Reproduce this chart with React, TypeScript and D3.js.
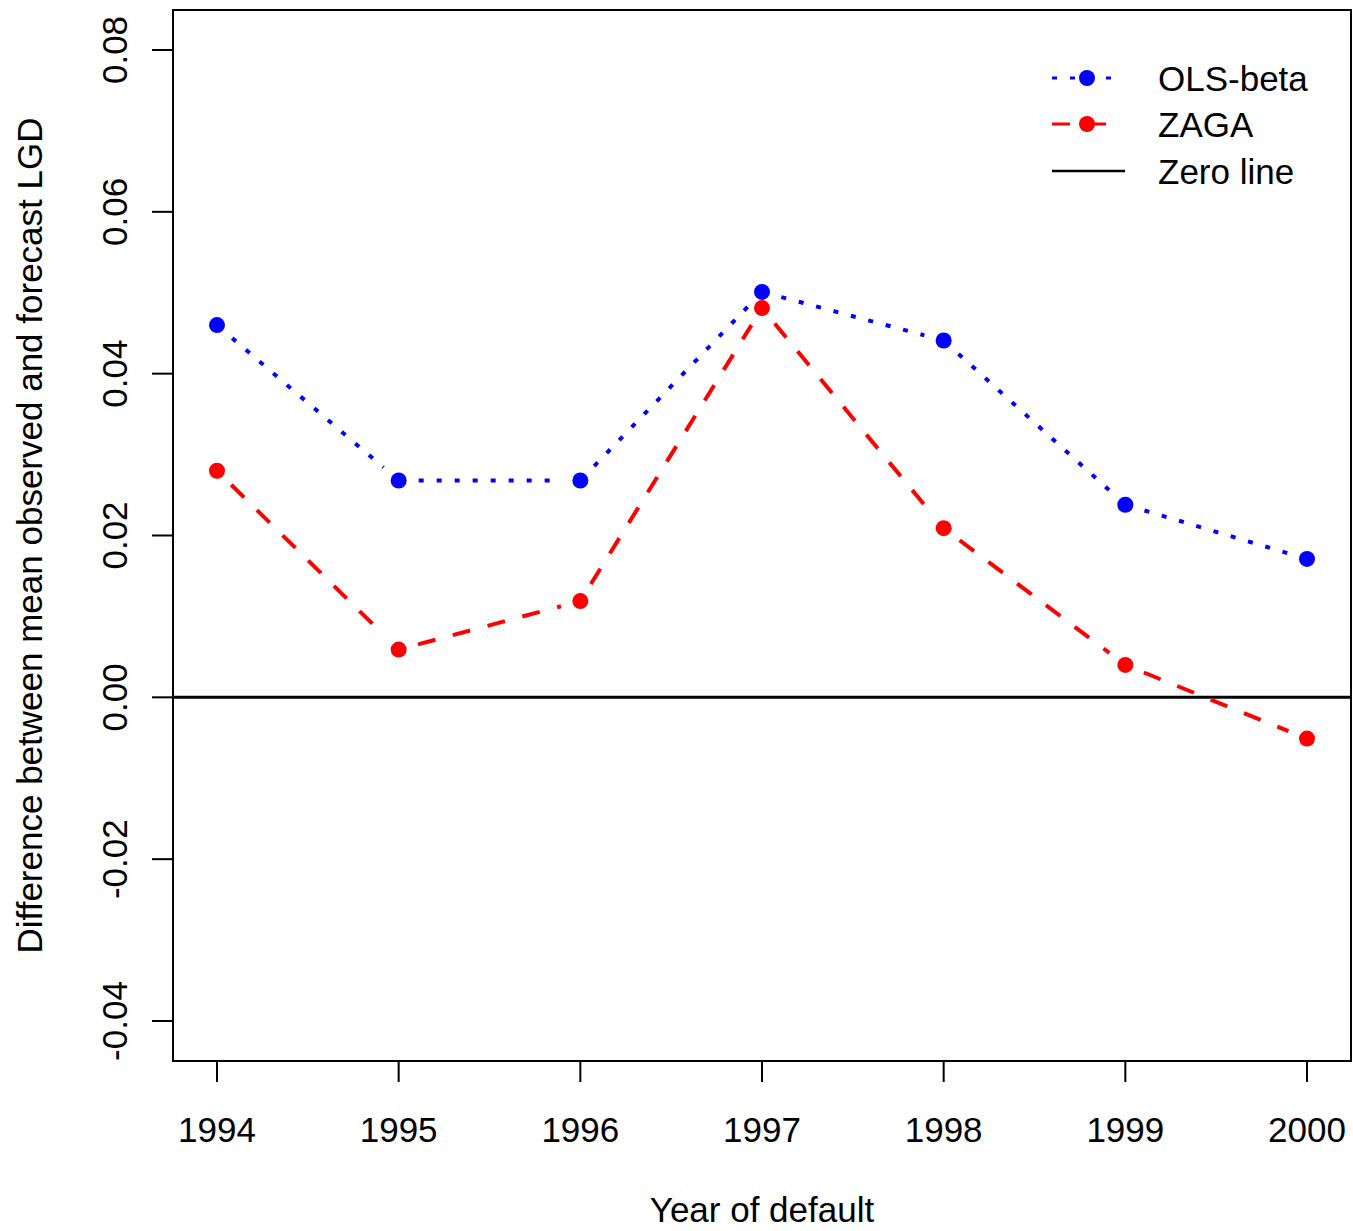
import { useEffect, useRef } from 'react';
import * as d3 from 'd3';

const years = [1994, 1995, 1996, 1997, 1998, 1999, 2000];
const olsBeta = [0.046, 0.0268, 0.0268, 0.0501, 0.0441, 0.0238, 0.0171];
const zaga = [0.028, 0.0059, 0.0119, 0.0481, 0.0209, 0.004, -0.0051];
const yTicks = [-0.04, -0.02, 0, 0.02, 0.04, 0.06, 0.08];

const width = 1353;
const height = 1231;
const font = '"Liberation Sans", Arial, sans-serif';

const App = () => {
  const svgRef = useRef<SVGSVGElement>(null);

  useEffect(() => {
    if (!svgRef.current) return;
    const svg = d3.select(svgRef.current);
    svg.selectAll('*').remove();

    // plot box, as R draws it
    const box = { left: 173, right: 1351, top: 10, bottom: 1061 };

    const xScale = d3.scaleLinear().domain([1994, 2000]).range([217, 1307]);
    const yScale = d3.scaleLinear().domain([-0.04, 0.08]).range([1021, 50]);

    const series = [
      { name: 'OLS-beta', values: olsBeta, color: '#0000ff', dash: '5 13' },
      { name: 'ZAGA', values: zaga, color: '#ff0000', dash: '18 18' },
    ];

    // Zero line
    svg.append('line')
      .attr('x1', box.left)
      .attr('x2', box.right)
      .attr('y1', yScale(0))
      .attr('y2', yScale(0))
      .attr('stroke', '#000')
      .attr('stroke-width', 3);

    // Lines with gaps around the points (type = "b")
    const gap = 20;
    const line = d3.line<[number, number]>();
    series.forEach(s => {
      const pts = years.map((yr, i) => [xScale(yr), yScale(s.values[i])] as [number, number]);
      for (let i = 0; i < pts.length - 1; i++) {
        const [x0, y0] = pts[i];
        const [x1, y1] = pts[i + 1];
        const len = Math.hypot(x1 - x0, y1 - y0);
        const ux = (x1 - x0) / len;
        const uy = (y1 - y0) / len;
        svg.append('path')
          .attr('d', line([[x0 + ux * gap, y0 + uy * gap], [x1 - ux * gap, y1 - uy * gap]]))
          .attr('fill', 'none')
          .attr('stroke', s.color)
          .attr('stroke-width', 4)
          .attr('stroke-dasharray', s.dash);
      }
      svg.selectAll(null)
        .data(pts)
        .join('circle')
        .attr('cx', d => d[0])
        .attr('cy', d => d[1])
        .attr('r', 8)
        .attr('fill', s.color);
    });

    // Box
    svg.append('rect')
      .attr('x', box.left)
      .attr('y', box.top)
      .attr('width', box.right - box.left)
      .attr('height', box.bottom - box.top)
      .attr('fill', 'none')
      .attr('stroke', '#000')
      .attr('stroke-width', 2);

    // X axis
    const xg = svg.append('g');
    years.forEach(yr => {
      xg.append('line')
        .attr('x1', xScale(yr)).attr('x2', xScale(yr))
        .attr('y1', box.bottom).attr('y2', box.bottom + 21)
        .attr('stroke', '#000').attr('stroke-width', 2);
      xg.append('text')
        .attr('x', xScale(yr))
        .attr('y', 1142)
        .attr('text-anchor', 'middle')
        .style('font-family', font)
        .style('font-size', '35px')
        .text(yr);
    });

    // Y axis
    const yg = svg.append('g');
    yTicks.forEach(t => {
      yg.append('line')
        .attr('x1', box.left).attr('x2', box.left - 21)
        .attr('y1', yScale(t)).attr('y2', yScale(t))
        .attr('stroke', '#000').attr('stroke-width', 2);
      yg.append('text')
        .attr('transform', `translate(127,${yScale(t)}) rotate(-90)`)
        .attr('text-anchor', 'middle')
        .style('font-family', font)
        .style('font-size', '35px')
        .text(d3.format('.2f')(t).replace('−', '-'));
    });

    // Axis titles
    svg.append('text')
      .attr('x', (box.left + box.right) / 2)
      .attr('y', 1222)
      .attr('text-anchor', 'middle')
      .style('font-family', font)
      .style('font-size', '35px')
      .text('Year of default');

    svg.append('text')
      .attr('transform', `translate(42,${(box.top + box.bottom) / 2}) rotate(-90)`)
      .attr('text-anchor', 'middle')
      .style('font-family', font)
      .style('font-size', '35px')
      .text('Difference between mean observed and forecast LGD');

    // Legend
    const legend = svg.append('g');
    const rows = [
      { name: 'OLS-beta', color: '#0000ff', dash: '5 13', point: true, y: 78 },
      { name: 'ZAGA', color: '#ff0000', dash: '18 18', point: true, y: 124 },
      { name: 'Zero line', color: '#000', dash: null, point: false, y: 171 },
    ];
    rows.forEach(r => {
      legend.append('line')
        .attr('x1', 1052).attr('x2', r.point ? 1120 : 1125)
        .attr('y1', r.y).attr('y2', r.y)
        .attr('stroke', r.color)
        .attr('stroke-width', r.point ? 3 : 2.5)
        .attr('stroke-dasharray', r.dash ?? null);
      if (r.point) {
        legend.append('circle')
          .attr('cx', 1087).attr('cy', r.y)
          .attr('r', 8).attr('fill', r.color);
      }
      legend.append('text')
        .attr('x', 1158)
        .attr('y', r.y + 13)
        .style('font-family', font)
        .style('font-size', '35px')
        .text(r.name);
    });
  }, []);

  return (
    <svg
      ref={svgRef}
      width={width}
      height={height}
      style={{ position: 'absolute', left: 0, top: 0, display: 'block', background: '#fff' }}
    />
  );
};

export default App;
